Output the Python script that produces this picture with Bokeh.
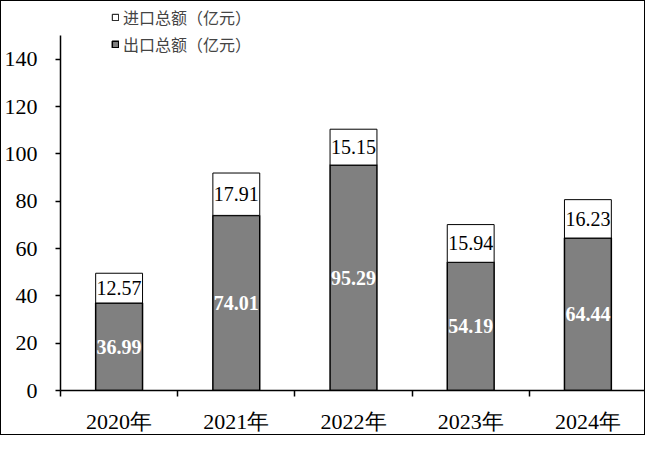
import numpy as np
from bokeh.plotting import figure
from bokeh.models import (ColumnDataSource, Range1d, FixedTicker, Legend, LegendItem)
from bokeh.core.properties import value
from bokeh.embed import file_html
from bokeh.resources import INLINE

years = ["2020年", "2021年", "2022年", "2023年", "2024年"]
exports = [36.99, 74.01, 95.29, 54.19, 64.44]
imports = [12.57, 17.91, 15.15, 15.94, 16.23]
y_ticks = [0, 20, 40, 60, 80, 100, 120, 140]
y_axis_max = 150

n = len(years)
xc = np.arange(n) + 0.5
exp_arr = np.array(exports)
imp_arr = np.array(imports)

src = ColumnDataSource(dict(
    x=xc, exp=exp_arr, imp=imp_arr, top=exp_arr + imp_arr,
    exp_mid=exp_arr / 2, imp_mid=exp_arr + imp_arr / 2,
    exp_lbl=["%.2f" % v for v in exports], imp_lbl=["%.2f" % v for v in imports],
))

p = figure(width=645, height=435, output_backend="svg", toolbar_location=None,
           x_range=Range1d(0, n), y_range=Range1d(0, 164),
           min_border_left=0, min_border_right=0, min_border_top=1, min_border_bottom=44)
p.styles = {"border": "1px solid black"}
p.outline_line_color = None
p.grid.visible = False
p.background_fill_color = "white"
p.border_fill_color = "white"

r_exp = p.vbar(x="x", bottom=0, top="exp", width=0.4, source=src,
               fill_color="#808080", line_color="black", line_width=1.5)
r_imp = p.vbar(x="x", bottom="exp", top="top", width=0.4, source=src,
               fill_color="white", line_color="black", line_width=1)

p.text(x="x", y="exp_mid", text="exp_lbl", source=src, text_align="center",
       text_baseline="middle", text_color="white", text_font_style="bold",
       text_font=value("Liberation Serif"), text_font_size="20px")
p.text(x="x", y="imp_mid", text="imp_lbl", source=src, text_align="center",
       text_baseline="middle", text_color="black",
       text_font=value("Liberation Serif"), text_font_size="20px")

# x axis: labels at centers, tick marks at category boundaries
xa = p.xaxis[0]
xa.ticker = FixedTicker(ticks=list(xc), minor_ticks=list(range(n + 1)))
xa.major_label_overrides = {float(x): y for x, y in zip(xc, years)}
xa.major_tick_line_color = None
xa.major_tick_out = 0
xa.major_tick_in = 0
xa.minor_tick_out = 6
xa.minor_tick_in = 0
xa.minor_tick_line_color = "black"
xa.minor_tick_line_width = 1.5
xa.axis_line_color = "black"
xa.axis_line_width = 1.5
xa.major_label_text_font = "Liberation Serif"
xa.major_label_text_font_size = "22px"
xa.major_label_text_color = "black"
xa.major_label_standoff = 12

ya = p.yaxis[0]
ya.ticker = FixedTicker(ticks=y_ticks)
ya.bounds = (0, y_axis_max)
ya.major_tick_out = 5
ya.major_tick_in = 0
ya.minor_tick_line_color = None
ya.major_tick_line_width = 1.5
ya.axis_line_width = 1.5
ya.axis_line_color = "black"
ya.major_label_text_font = "Liberation Serif"
ya.major_label_text_font_size = "22px"
ya.major_label_text_color = "black"
ya.major_label_standoff = 18

legend = Legend(items=[LegendItem(label="进口总额（亿元）", renderers=[r_imp]),
                       LegendItem(label="出口总额（亿元）", renderers=[r_exp])],
                location=(51, 334), orientation="vertical",
                glyph_width=8, glyph_height=8, label_standoff=4,
                label_height=16, spacing=3, padding=0, margin=0,
                label_text_font="Noto Sans CJK SC", label_text_font_size="16px",
                border_line_color=None, background_fill_alpha=0)
p.add_layout(legend, "center")

open("out.html", "w").write(file_html(p, INLINE))
